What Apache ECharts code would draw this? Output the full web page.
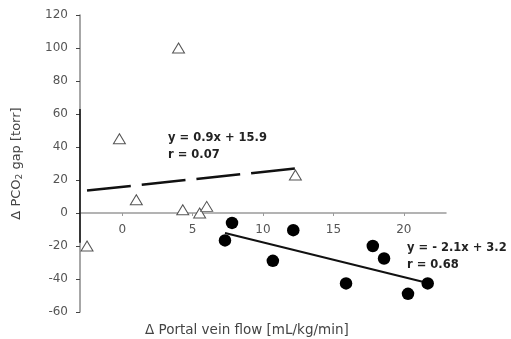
<!DOCTYPE html>
<html><head><meta charset="utf-8">
<script src="https://cdn.jsdelivr.net/npm/echarts@6/dist/echarts.min.js"></script>
<style>html,body{margin:0;padding:0;background:#fff}#c{width:511px;height:339px}</style>
</head><body><div id="c"></div>
<script>
// Open triangles: [Δ portal vein flow, Δ PCO2 gap]
const triangles = [[-2.5,-20],[-0.2,45],[1.0,8],[4.0,100],[4.3,2],[5.5,0],[6.0,4],[12.3,23]];
// Filled circles
const circles = [[7.3,-16.6],[7.8,-6],[10.7,-29],[12.15,-10.4],[15.9,-42.7],[17.8,-20],[18.6,-27.6],[20.3,-49],[21.7,-42.7]];
// Regression line endpoints
const fitTriangles = [[-2.5,13.6],[12.3,27]];
const fitCircles = [[7.3,-12.1],[21.7,-42.4]];
const xTicks = [0,5,10,15,20];
const yMin = -60, yMax = 120, yStep = 20;
const xMin = -3, xMax = 23;
const axisDark = [[-3,63],[-3,-18]];

const chart = echarts.init(document.getElementById('c'));
const font = '"DejaVu Sans", Arial, sans-serif';
chart.setOption({
  animation:false,
  grid:{left:80, right:65, top:15, bottom:27},
  xAxis:{type:'value', min:xMin, max:xMax, position:'bottom', offset:-99,
    axisLine:{onZero:false, lineStyle:{color:'#9a9a9a', width:1.5}},
    axisTick:{show:true, customValues:xTicks, length:3, lineStyle:{color:'#9a9a9a'}},
    axisLabel:{customValues:xTicks, color:'#555', fontSize:12, fontFamily:font, margin:11},
    splitLine:{show:false}},
  yAxis:{type:'value', min:yMin, max:yMax, interval:yStep,
    axisLine:{show:true, onZero:false, lineStyle:{color:'#8a8a8a', width:1.5}},
    axisTick:{show:true, length:4, lineStyle:{color:'#444'}},
    axisLabel:{color:'#555', fontSize:12, fontFamily:font, margin:12},
    splitLine:{show:false},
    name:'{a|Δ PCO}{s|2}{a| gap [torr]}', nameLocation:'middle', nameGap:56,
    nameTextStyle:{rich:{a:{fontSize:13, color:'#444', fontFamily:font}, s:{fontSize:9, color:'#444', fontFamily:font, verticalAlign:'bottom', padding:[6,0,0,0]}}}},
  series:[
    {type:'line', data:axisDark, symbol:'none', lineStyle:{color:'#111', width:1.5}, silent:true, z:1},
    {type:'line', data:fitTriangles, symbol:'none', lineStyle:{color:'#111', width:2.5, type:[44,11]}, z:2},
    {type:'line', data:fitCircles, symbol:'none', lineStyle:{color:'#111', width:2}, z:2},
    {type:'scatter', data:triangles, symbol:'triangle', symbolSize:[12,10],
      itemStyle:{color:'#fff', borderColor:'#555', borderWidth:1, opacity:1}, z:3},
    {type:'scatter', data:circles, symbol:'circle', symbolSize:12.5,
      itemStyle:{color:'#000', opacity:1}, z:3}
  ],
  graphic:[
    {type:'text', left:168, top:130, style:{text:'y = 0.9x + 15.9\nr = 0.07', font:'bold 11.5px '+font, fill:'#222', lineHeight:17}},
    {type:'text', left:407, top:240, style:{text:'y = - 2.1x + 3.2\nr = 0.68', font:'bold 11.5px '+font, fill:'#222', lineHeight:17}},
    {type:'text', left:145, top:323, style:{text:'Δ Portal vein flow [mL/kg/min]', font:'13.5px '+font, fill:'#444'}}
  ]
});
</script></body></html>
